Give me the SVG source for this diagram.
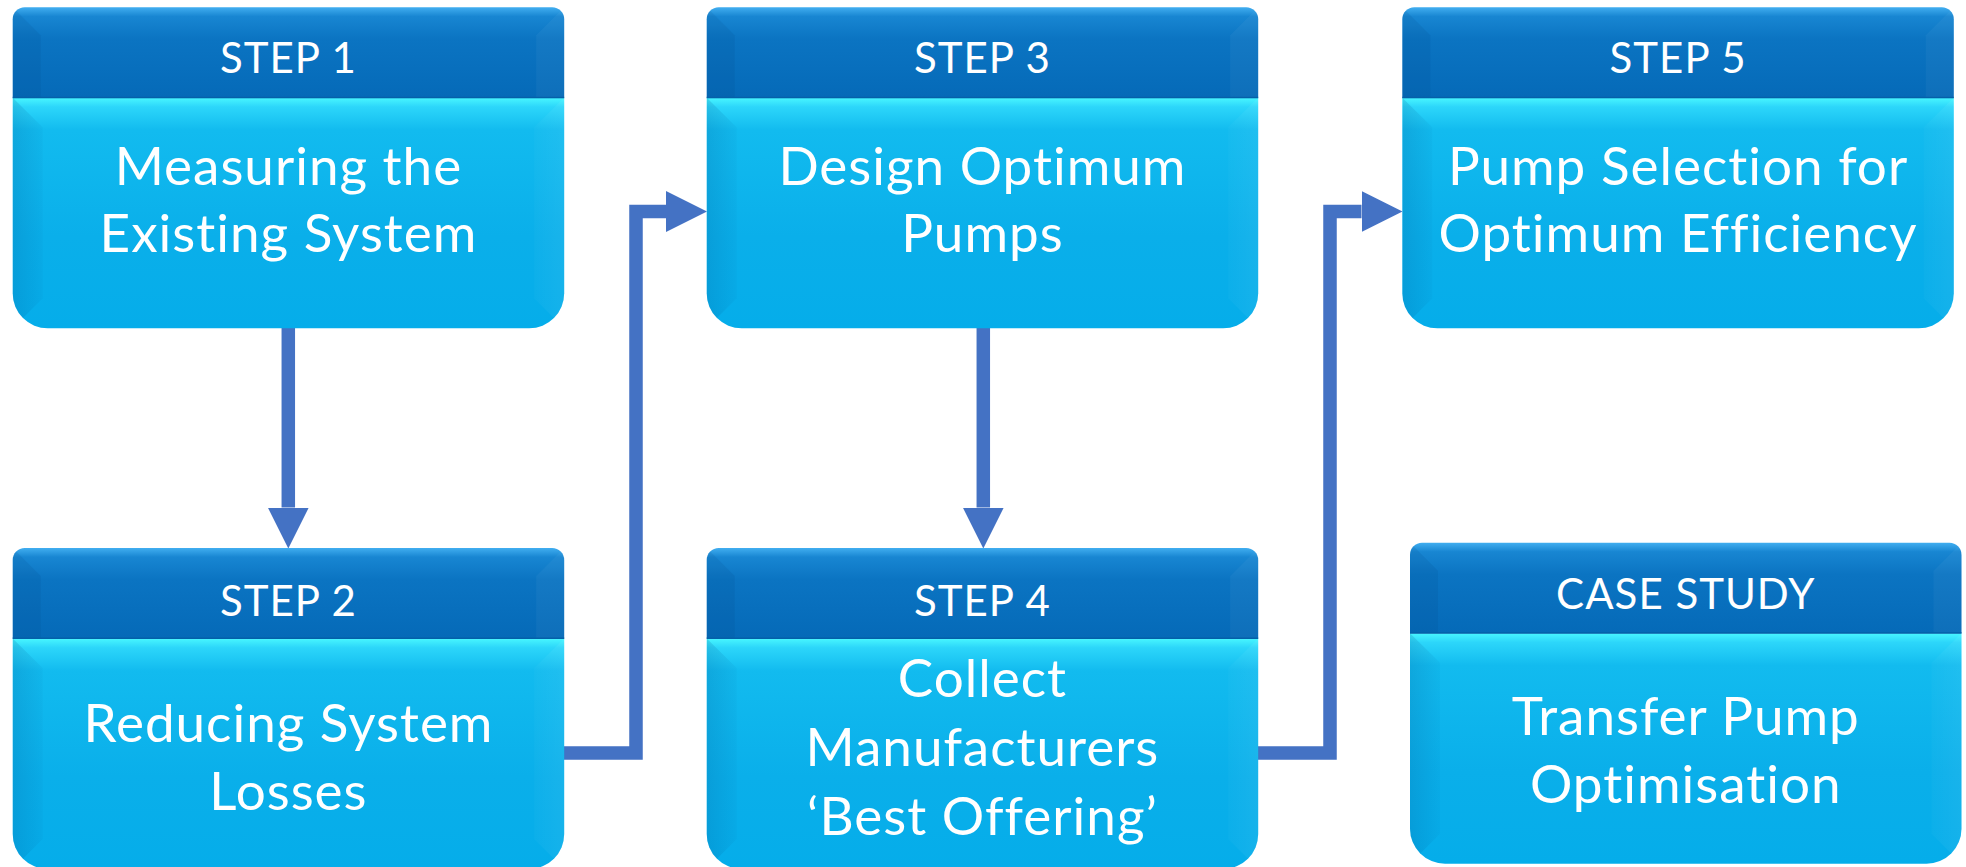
<svg xmlns="http://www.w3.org/2000/svg" xmlns:xlink="http://www.w3.org/1999/xlink" width="1966" height="867" viewBox="0 0 1966 867">
<style>
.hd{font-family:Lato,"Open Sans","Noto Sans",sans-serif;font-size:42px;letter-spacing:1px;fill:#FFFFFF;text-anchor:middle}
.bd{font-family:Lato,"Open Sans","Noto Sans",sans-serif;font-size:53px;letter-spacing:1px;fill:#FFFFFF;text-anchor:middle}
.cn{fill:none;stroke:#4472C4;stroke-width:13.5;stroke-linejoin:miter}
</style>
<defs>
<linearGradient id="hdrGrad" x1="0" y1="0" x2="0" y2="1">
<stop offset="0" stop-color="#41AEF0"/>
<stop offset="0.1" stop-color="#1886D2"/>
<stop offset="0.35" stop-color="#0B74C2"/>
<stop offset="1" stop-color="#056AB8"/>
</linearGradient>
<linearGradient id="bodyGrad" x1="0" y1="0" x2="0" y2="1">
<stop offset="0" stop-color="#48F6FF"/>
<stop offset="0.04" stop-color="#2CD6FA"/>
<stop offset="0.14" stop-color="#12BBEF"/>
<stop offset="0.6" stop-color="#0AAFEA"/>
<stop offset="1" stop-color="#05ADEA"/>
</linearGradient>
<linearGradient id="leftShade" x1="0" y1="0" x2="1" y2="0">
<stop offset="0" stop-color="#00508C" stop-opacity="0.18"/>
<stop offset="1" stop-color="#00508C" stop-opacity="0.04"/>
</linearGradient>
<linearGradient id="rightShade" x1="0" y1="0" x2="1" y2="0">
<stop offset="0" stop-color="#FFFFFF" stop-opacity="0.02"/>
<stop offset="1" stop-color="#FFFFFF" stop-opacity="0.06"/>
</linearGradient>
<clipPath id="hdrClip"><path d="M0,90.5 V12 A12,12 0 0 1 12,0 H539.5 A12,12 0 0 1 551.5,12 V90.5 Z"/></clipPath>
<clipPath id="bodyClip"><path d="M0,90.5 H551.5 V286 A35,35 0 0 1 516.5,321 H35 A35,35 0 0 1 0,286 Z"/></clipPath>
<g id="box">
<path d="M0,90.5 H551.5 V286 A35,35 0 0 1 516.5,321 H35 A35,35 0 0 1 0,286 Z" fill="url(#bodyGrad)"/>
<g clip-path="url(#bodyClip)">
<polygon points="0,90.5 30,120 30,291 0,321" fill="url(#leftShade)"/>
<polygon points="551.5,90.5 521.5,120 521.5,291 551.5,321" fill="url(#rightShade)"/>
</g>
<path d="M0,90.5 V12 A12,12 0 0 1 12,0 H539.5 A12,12 0 0 1 551.5,12 V90.5 Z" fill="url(#hdrGrad)"/>
<g clip-path="url(#hdrClip)">
<polygon points="0,0 28,28 28,90.5 0,90.5" fill="#003E78" fill-opacity="0.10"/>
<polygon points="551.5,0 523.5,28 523.5,90.5 551.5,90.5" fill="#FFFFFF" fill-opacity="0.04"/>
</g>
<rect x="0" y="89.5" width="551.5" height="1.5" fill="#0560A8"/>
</g>
<marker id="ah" markerUnits="userSpaceOnUse" markerWidth="41" markerHeight="41" refX="0" refY="20.5" orient="auto" viewBox="0 0 41 41">
<path d="M0,0 L41,20.5 L0,41 Z" fill="#4472C4"/>
</marker>
</defs>
<rect x="0" y="0" width="1966" height="867" fill="#FFFFFF"/>
<g id="connectors">
<path class="cn" d="M288.3,328 V507.5" marker-end="url(#ah)"/>
<path class="cn" d="M983.3,328 V507.5" marker-end="url(#ah)"/>
<path class="cn" d="M564,753 H636 V211.5 H666" marker-end="url(#ah)"/>
<path class="cn" d="M1258,753 H1330 V211.5 H1361.5" marker-end="url(#ah)"/>
</g>
<g id="step1" transform="translate(12.7,7.3)">
<use xlink:href="#box"/>
<text class="hd" x="275.75" y="66">STEP 1</text>
<text class="bd" x="275.75" y="177.7">Measuring the</text>
<text class="bd" x="275.75" y="244.7">Existing System</text>
</g>
<g id="step3" transform="translate(706.7,7.3)">
<use xlink:href="#box"/>
<text class="hd" x="275.75" y="66">STEP 3</text>
<text class="bd" x="275.75" y="177.7">Design Optimum</text>
<text class="bd" x="275.75" y="244.7">Pumps</text>
</g>
<g id="step5" transform="translate(1402.3,7.3)">
<use xlink:href="#box"/>
<text class="hd" x="275.75" y="66">STEP 5</text>
<text class="bd" x="275.75" y="177.7">Pump Selection for</text>
<text class="bd" x="275.75" y="244.7">Optimum Efficiency</text>
</g>
<g id="step2" transform="translate(12.7,548)">
<use xlink:href="#box"/>
<text class="hd" x="275.75" y="67.7">STEP 2</text>
<text class="bd" x="275.75" y="193.7">Reducing System</text>
<text class="bd" x="275.75" y="262">Losses</text>
</g>
<g id="step4" transform="translate(706.7,548)">
<use xlink:href="#box"/>
<text class="hd" x="275.75" y="67.7">STEP 4</text>
<text class="bd" x="275.75" y="149">Collect</text>
<text class="bd" x="275.75" y="218">Manufacturers</text>
<text class="bd" x="275.75" y="287">‘Best Offering’</text>
</g>
<g id="casestudy" transform="translate(1410,542.7)">
<use xlink:href="#box"/>
<text class="hd" x="275.75" y="66.6">CASE STUDY</text>
<text class="bd" x="275.75" y="192.3">Transfer Pump</text>
<text class="bd" x="275.75" y="260.3">Optimisation</text>
</g>
</svg>
